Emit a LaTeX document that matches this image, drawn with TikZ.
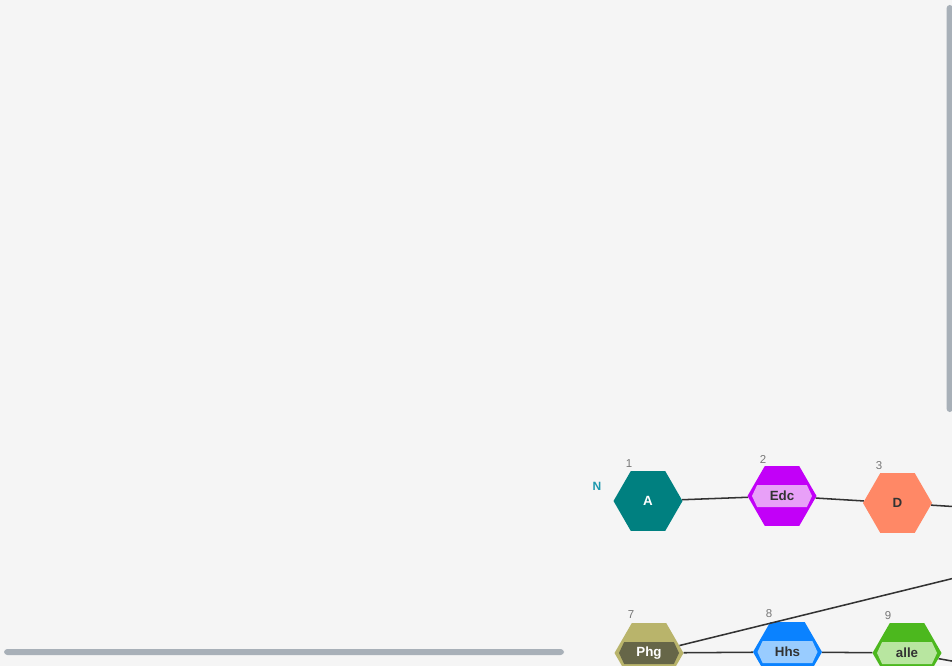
\documentclass[tikz,border=0pt]{standalone}
\usepackage{fontspec}
\setmainfont{Liberation Sans}
\usetikzlibrary{shapes.geometric,shapes.symbols}
\definecolor{bgc}{HTML}{F5F5F5}
\definecolor{barc}{HTML}{A8B0B8}
\definecolor{linkc}{HTML}{333333}
\definecolor{numc}{HTML}{777777}
\definecolor{tagc}{HTML}{1B98AD}
\definecolor{tealc}{HTML}{008080}
\definecolor{edcc}{HTML}{C200F8}
\definecolor{edcl}{HTML}{E8A0F8}
\definecolor{dc}{HTML}{FF8866}
\definecolor{phgc}{HTML}{B9B46B}
\definecolor{phgl}{HTML}{666648}
\definecolor{hhsc}{HTML}{0A82FF}
\definecolor{hhsl}{HTML}{99CCFF}
\definecolor{allec}{HTML}{4CB81E}
\definecolor{allel}{HTML}{B8E6A0}
\begin{document}
\begin{tikzpicture}[x=0.75pt,y=-0.75pt,
  hex/.style={regular polygon, regular polygon sides=6, minimum size=51.75pt, inner sep=0pt, text=linkc, font=\bfseries\fontsize{10}{12}\selectfont},
  band/.style={signal, signal to=east and west, signal pointer angle=130, minimum width=45pt, minimum height=16.5pt, inner sep=0pt, text=linkc, font=\bfseries\fontsize{10}{12}\selectfont},
  num/.style={text=numc, inner sep=0pt, font=\fontsize{8.6}{10}\selectfont},
  link/.style={draw=linkc, line width=1.15pt}]
\clip (0,0) rectangle (952,666);
\fill[bgc] (0,0) rectangle (952,666);
% scroll bars
\fill[barc, rounded corners=2.5pt] (946.5,5) rectangle (953,412);
\fill[barc, rounded corners=2.5pt] (4,649) rectangle (564,655);
% upper row
\node[hex, fill=tealc, text=white] (n1) at (648,501) {A};
\node[hex, fill=edcc] (n2) at (782,496) {};
\node[band, fill=edcl] (t2) at (782,496) {Edc};
\node[hex, fill=dc] (n3) at (897.5,503) {D};
\coordinate (o3) at (992,509);
\node[num] (l1) at (629,464) {1};
\node[num] (l2) at (763,459) {2};
\node[num] (l3) at (879,466) {3};
\node[text=tagc, inner sep=0pt, font=\bfseries\fontsize{9}{10}\selectfont] (tag1) at (597,486) {N};
% lower row
\node[hex, fill=phgc] (n7) at (649,653) {};
\node[band, fill=phgl, text=white] (t7) at (649,653) {Phg};
\node[hex, fill=hhsc] (n8) at (787.5,652) {};
\node[band, fill=hhsl] (t8) at (787.5,652) {Hhs};
\node[hex, fill=allec] (n9) at (907,653) {};
\node[band, fill=allel] (t9) at (907,653) {alle};
\coordinate (o7) at (1032,559);
\coordinate (o9) at (1002,670);
\node[num] (l7) at (631,615) {7};
\node[num] (l8) at (769,614) {8};
\node[num] (l9) at (888,616) {9};
% links
\draw[link] (n1) -- (n2);
\draw[link] (n2) -- (n3);
\draw[link] (n3) -- (o3);
\draw[link] (n7) -- (o7);
\draw[link] (n7) -- (n8);
\draw[link] (n8) -- (n9);
\draw[link] (n9) -- (o9);
\end{tikzpicture}
\end{document}
